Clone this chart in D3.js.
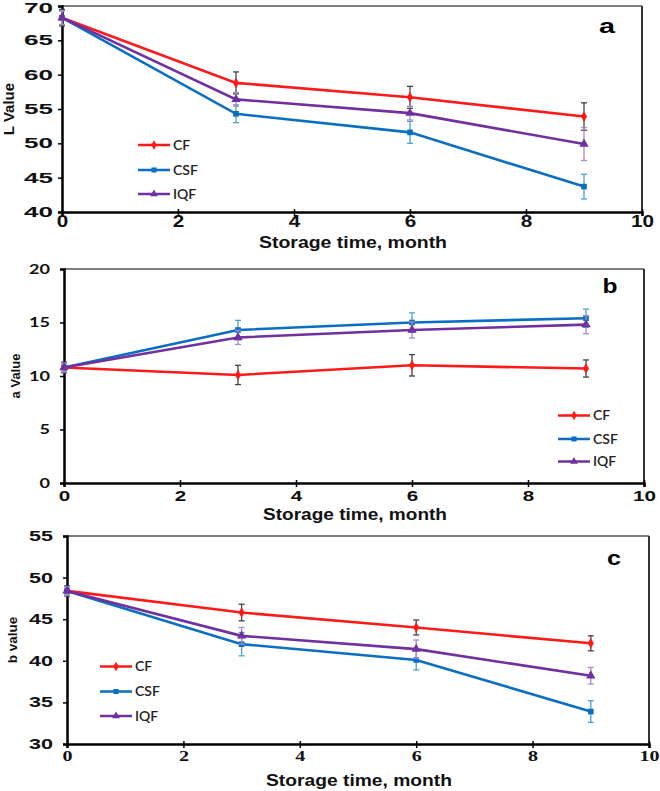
<!DOCTYPE html>
<html><head><meta charset="utf-8">
<script src="https://cdn.jsdelivr.net/npm/d3@7"></script>
<style>body{margin:0;background:#fff}svg{display:block}</style>
</head><body>
<svg id="chart" width="660" height="791"></svg>
<script>
// ---------- data ----------
const months = [0, 3, 6, 9];
const seriesNames = ["CF", "CSF", "IQF"];
const xTicks = [0, 2, 4, 6, 8, 10];

// Panel a: L value
const L_CF  = [68.3, 58.8, 56.7, 53.9];
const L_CSF = [68.3, 54.3, 51.6, 43.7];
const L_IQF = [68.3, 56.4, 54.4, 49.9];
const L_CF_err  = [1.2, 1.6, 1.6, 2.0];
const L_CSF_err = [1.0, 1.3, 1.6, 1.8];
const L_IQF_err = [1.0, 1.0, 1.0, 2.4];
const L_ticks = [40, 45, 50, 55, 60, 65, 70];

// Panel b: a value
const a_CF  = [10.8, 10.1, 11.0, 10.7];
const a_CSF = [10.8, 14.3, 15.0, 15.4];
const a_IQF = [10.8, 13.6, 14.3, 14.8];
const a_CF_err  = [0.5, 0.9, 1.0, 0.8];
const a_CSF_err = [0.4, 0.9, 0.9, 0.85];
const a_IQF_err = [0.4, 0.65, 0.75, 0.85];
const a_ticks = [0, 5, 10, 15, 20];

// Panel c: b value
const b_CF  = [48.4, 45.8, 44.0, 42.1];
const b_CSF = [48.4, 42.0, 40.1, 33.9];
const b_IQF = [48.4, 43.0, 41.4, 38.2];
const b_CF_err  = [0.6, 1.0, 0.9, 0.9];
const b_CSF_err = [0.5, 1.4, 1.2, 1.3];
const b_IQF_err = [0.5, 1.0, 1.1, 1.0];
const b_ticks = [30, 35, 40, 45, 50, 55];

// ---------- styles ----------
const colors = {CF: "#ff1a1a", CSF: "#0a6fc2", IQF: "#7030a0"};
const errColors = {CF: "#444444", CSF: "#4aa3cf", IQF: "#a98bc8"};
const symbols = {CF: d3.symbolDiamond, CSF: d3.symbolSquare, IQF: d3.symbolTriangle};
const SANS = "'Liberation Sans', Arial, sans-serif";

const panels = [
  {id:"a", ylabel:"L Value", vals:[L_CF,L_CSF,L_IQF], errs:[L_CF_err,L_CSF_err,L_IQF_err], yt:L_ticks,
   box:{l:62,r:642,t:6,b:212},
   yt_f:{fam:SANS, size:14, w:14.5, pad:5}, xt_f:{fam:SANS, size:16.5, w:11.5, pad:-1},
   ylab:{x:14, size:15}, title:{y:248, len:188},
   legend:{x:138, y:[145,170,194]}, letter:{x:607,y:33,size:21,len:16}},
  {id:"b", ylabel:"a Value", vals:[a_CF,a_CSF,a_IQF], errs:[a_CF_err,a_CSF_err,a_IQF_err], yt:a_ticks,
   box:{l:64,r:644,t:269,b:483},
   yt_f:{fam:"Lato, 'Open Sans', sans-serif", size:13, w:10.5, pad:10}, xt_f:{fam:SANS, size:14, w:11.5, pad:4},
   ylab:{x:20, size:13}, title:{y:520, len:184},
   legend:{x:558, y:[415.5,439,461.5]}, letter:{x:610,y:293,size:20.5,len:15}},
  {id:"c", ylabel:"b value", vals:[b_CF,b_CSF,b_IQF], errs:[b_CF_err,b_CSF_err,b_IQF_err], yt:b_ticks,
   box:{l:67,r:649,t:536,b:744},
   yt_f:{fam:SANS, size:14, w:12, pad:10}, xt_f:{fam:"'Liberation Serif', 'DejaVu Serif', serif", size:15, w:10, pad:2},
   ylab:{x:17, size:13.5}, title:{y:786, len:186},
   legend:{x:100, y:[666.5,691.5,716]}, letter:{x:614,y:565,size:20,len:14}}
];

const svg = d3.select("#chart");

panels.forEach(p => {
  const B = p.box;
  const x = d3.scaleLinear().domain([0, 10]).range([B.l, B.r]);
  const y = d3.scaleLinear().domain([p.yt[0], p.yt[p.yt.length-1]]).range([B.b, B.t]);
  const g = svg.append("g");

  // frame top/right
  g.append("line").attr("x1",B.l).attr("x2",B.r).attr("y1",B.t).attr("y2",B.t)
    .attr("stroke","#555").attr("stroke-width",1.5);
  g.append("line").attr("x1",B.r).attr("x2",B.r).attr("y1",B.t).attr("y2",B.b)
    .attr("stroke","#333").attr("stroke-width",2);

  // axes
  const yAxis = g.append("g").attr("transform",`translate(${B.l},0)`)
    .call(d3.axisLeft(y).tickValues(p.yt).tickSize(4).tickPadding(p.yt_f.pad).tickFormat(d3.format("d")));
  const xAxis = g.append("g").attr("transform",`translate(0,${B.b})`)
    .call(d3.axisBottom(x).tickValues(xTicks).tickSize(4).tickPadding(p.xt_f.pad).tickFormat(d3.format("d")));
  [[yAxis, p.yt_f], [xAxis, p.xt_f]].forEach(([a, f]) => {
    a.attr("font-family", f.fam).attr("font-size", f.size).attr("font-weight", "bold");
    a.select(".domain").attr("stroke","#000").attr("stroke-width",2.5);
    a.selectAll(".tick line").attr("stroke","#000").attr("stroke-width",1.5);
    a.selectAll(".tick text").attr("fill","#111")
      .attr("textLength", d => String(d).length * f.w).attr("lengthAdjust","spacingAndGlyphs");
  });
  xAxis.selectAll(".tick line").attr("y1",-3);
  // keep the top-most label of the first panel inside the picture
  if (B.t < 10) yAxis.selectAll(".tick text").filter(d => d === p.yt[p.yt.length-1]).attr("dy","0.48em");

  // axis titles
  g.append("text").attr("transform",`translate(${p.ylab.x},${(B.t+B.b)/2}) rotate(-90)`)
    .attr("text-anchor","middle").attr("font-family",SANS).attr("font-weight","bold")
    .attr("font-size",p.ylab.size).attr("fill","#111").text(p.ylabel);
  g.append("text").attr("x",(B.l+B.r)/2+1).attr("y",p.title.y).attr("text-anchor","middle")
    .attr("font-family",SANS).attr("font-weight","bold").attr("font-size",17)
    .attr("textLength",p.title.len).attr("lengthAdjust","spacingAndGlyphs")
    .attr("fill","#111").text("Storage time, month");

  // panel letter
  g.append("text").attr("x",p.letter.x).attr("y",p.letter.y).attr("text-anchor","middle")
    .attr("font-family",SANS).attr("font-weight","bold").attr("font-size",p.letter.size)
    .attr("textLength",p.letter.len).attr("lengthAdjust","spacingAndGlyphs")
    .attr("fill","#000").text(p.id);

  const line = d3.line().x((d,i)=>x(months[i])).y(d=>y(d));

  seriesNames.forEach((s, k) => {
    const vals = p.vals[k], errs = p.errs[k];
    g.append("path").datum(vals).attr("d", line).attr("fill","none")
      .attr("stroke", colors[s]).attr("stroke-width", 2.6);
    const eg = g.append("g").attr("stroke", errColors[s]).attr("stroke-width", 1.3);
    vals.forEach((v, i) => {
      const cx = x(months[i]);
      eg.append("line").attr("x1",cx).attr("x2",cx).attr("y1",y(v-errs[i])).attr("y2",y(v+errs[i]));
      [v-errs[i], v+errs[i]].forEach(e => eg.append("line")
        .attr("x1",cx-3).attr("x2",cx+3).attr("y1",y(e)).attr("y2",y(e)));
    });
    g.selectAll(null).data(vals).enter().append("path")
      .attr("transform",(d,i)=>`translate(${x(months[i])},${y(d)})`)
      .attr("d", d3.symbol().type(symbols[s]).size(s==="IQF"?38:32))
      .attr("fill", colors[s]);

    // legend
    const ly = p.legend.y[k], lx = p.legend.x;
    g.append("line").attr("x1",lx).attr("x2",lx+32).attr("y1",ly).attr("y2",ly)
      .attr("stroke",colors[s]).attr("stroke-width",2.5);
    g.append("path").attr("transform",`translate(${lx+16},${ly})`)
      .attr("d", d3.symbol().type(symbols[s]).size(26)).attr("fill",colors[s]);
    g.append("text").attr("x",lx+35).attr("y",ly+4.5)
      .attr("font-family","Lato, 'Open Sans', sans-serif").attr("font-size",14)
      .attr("font-weight",600).attr("fill","#222").text(s);
  });
});
</script>
</body></html>
